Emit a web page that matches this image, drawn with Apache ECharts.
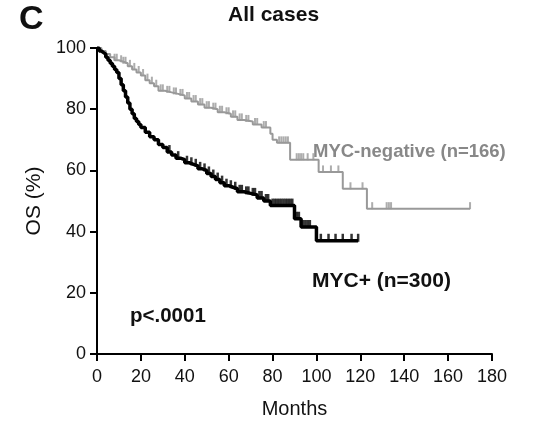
<!DOCTYPE html>
<html><head><meta charset="utf-8">
<script src="https://cdn.jsdelivr.net/npm/echarts@6/dist/echarts.min.js"></script>
<style>html,body{margin:0;padding:0;background:#fff}#c{width:548px;height:425px}</style>
</head><body><div id="c"></div>
<script>
// MYC+ (n=300) Kaplan-Meier steps: [month, OS %]
const mycPosCurve = [[0,100],[1,99],[2,98.5],[3,98],[4,97],[5,96],[6,95],[7,94],[8,93],[9,92],[10,90],[11,88],[12,86],[13,84],[14,82],[15,80],[16,78.5],[17,77],[18,76],[19,75],[20,74],[22,72.5],[24,71],[26,70],[28,68.5],[30,67.5],[32,66],[34,65],[36,64],[38,63.5],[40,62.5],[42,62],[44,61.5],[46,60.5],[48,60],[50,59],[52,58],[54,57],[56,56],[58,55],[60,54.5],[62,54],[64,53],[67,52.5],[70,52],[73,51],[76,50],[79,48.5],[90,44.2],[93,41.5],[100,37],[119,37]];
const mycPosCensor = [33,37,41,43,45,47,49,51,53,55,57,59,61,63,65,66,68,69,71,72,74,75,77,78,80,81,82,83,84,85,86,87,88,89,91,92,94,95,96,97,102,105.5,108.7,112,116,119];
// MYC-negative (n=166)
const mycNegCurve = [[0,100],[2,99],[4,98],[6,97],[8,96],[10,95.5],[12,95],[14,94],[16,93],[18,92],[20,91],[22,89.5],[24,88.5],[26,87.5],[28,86],[31,85.5],[34,85],[37,84.5],[40,83.5],[43,82.5],[46,81.5],[49,80.5],[52,80],[55,79],[58,78.5],[61,77.5],[64,76.5],[67,76],[71,75],[75,74],[79,72],[80,70],[82,69],[88,63.5],[101,59.5],[112,54],[123,47.5],[170,47.5]];
const mycNegCensor = [8,9,11,12,13,15,17,19,21,23,25,27,29,30,32,33,35,36,38,39,41,42,44,45,47,48,50,51,53,54,56,57,59,60,62,63,65,66,68,69,72,73,76,77,83,84,85,86,87,91,92,93,94,96,98.6,103,106.6,110,115.5,121,125.4,132,133,134,170];
const xTicks = {min:0, max:180, interval:20};
const yTicks = {min:0, max:100, interval:20};

function survAt(curve, t){ let v = curve[0][1]; for (const p of curve){ if (p[0] <= t) v = p[1]; } return v; }

const chart = echarts.init(document.getElementById('c'), null, {renderer:'canvas'});
const FONT = 'Liberation Sans, Arial, sans-serif';
chart.setOption({
  animation:false,
  backgroundColor:'#fff',
  grid:{left:97, right:56, top:48, bottom:71},
  xAxis:{type:'value', min:xTicks.min, max:xTicks.max, interval:xTicks.interval,
    name:'Months', nameLocation:'middle', nameGap:45,
    nameTextStyle:{fontFamily:FONT, fontSize:20, color:'#111'},
    axisLine:{show:true, onZero:false, lineStyle:{color:'#000', width:2}},
    axisTick:{show:true, length:7, lineStyle:{color:'#000', width:2}},
    axisLabel:{fontFamily:FONT, fontSize:18, color:'#111', margin:14},
    splitLine:{show:false}},
  yAxis:{type:'value', min:yTicks.min, max:yTicks.max, interval:yTicks.interval,
    name:'OS (%)', nameLocation:'middle', nameGap:51, nameRotate:90,
    nameTextStyle:{fontFamily:FONT, fontSize:21, color:'#111'},
    axisLine:{show:true, lineStyle:{color:'#000', width:2}},
    axisTick:{show:true, length:7, lineStyle:{color:'#000', width:2}},
    axisLabel:{fontFamily:FONT, fontSize:18, color:'#111', margin:11},
    splitLine:{show:false}},
  series:[
    {type:'line', name:'MYC-negative', data:mycNegCurve, step:'end', showSymbol:false, lineStyle:{color:'#999', width:2}, z:2},
    {type:'scatter', data:mycNegCensor.map(t=>[t, survAt(mycNegCurve,t)]), symbol:'rect', symbolSize:[2,7], symbolOffset:[0,-3], itemStyle:{color:'#999'}, z:2},
    {type:'line', name:'MYC+', data:mycPosCurve, step:'end', showSymbol:false, lineStyle:{color:'#000', width:3.5}, z:3},
    {type:'scatter', data:mycPosCensor.map(t=>[t, survAt(mycPosCurve,t)]), symbol:'rect', symbolSize:[2.5,8], symbolOffset:[0,-3], itemStyle:{color:'#000'}, z:3}
  ],
  graphic:[
    {type:'text', left:19, top:3, style:{text:'C', font:'bold 34px '+FONT, fill:'#111'}},
    {type:'text', left:228, top:5, style:{text:'All cases', font:'bold 21px '+FONT, fill:'#111'}},
    {type:'text', left:313, top:142, style:{text:'MYC-negative (n=166)', font:'bold 18.5px '+FONT, fill:'#888'}},
    {type:'text', left:312, top:271, style:{text:'MYC+ (n=300)', font:'bold 21px '+FONT, fill:'#111'}},
    {type:'text', left:130, top:306, style:{text:'p<.0001', font:'bold 20.5px '+FONT, fill:'#111'}}
  ]
});
</script></body></html>
